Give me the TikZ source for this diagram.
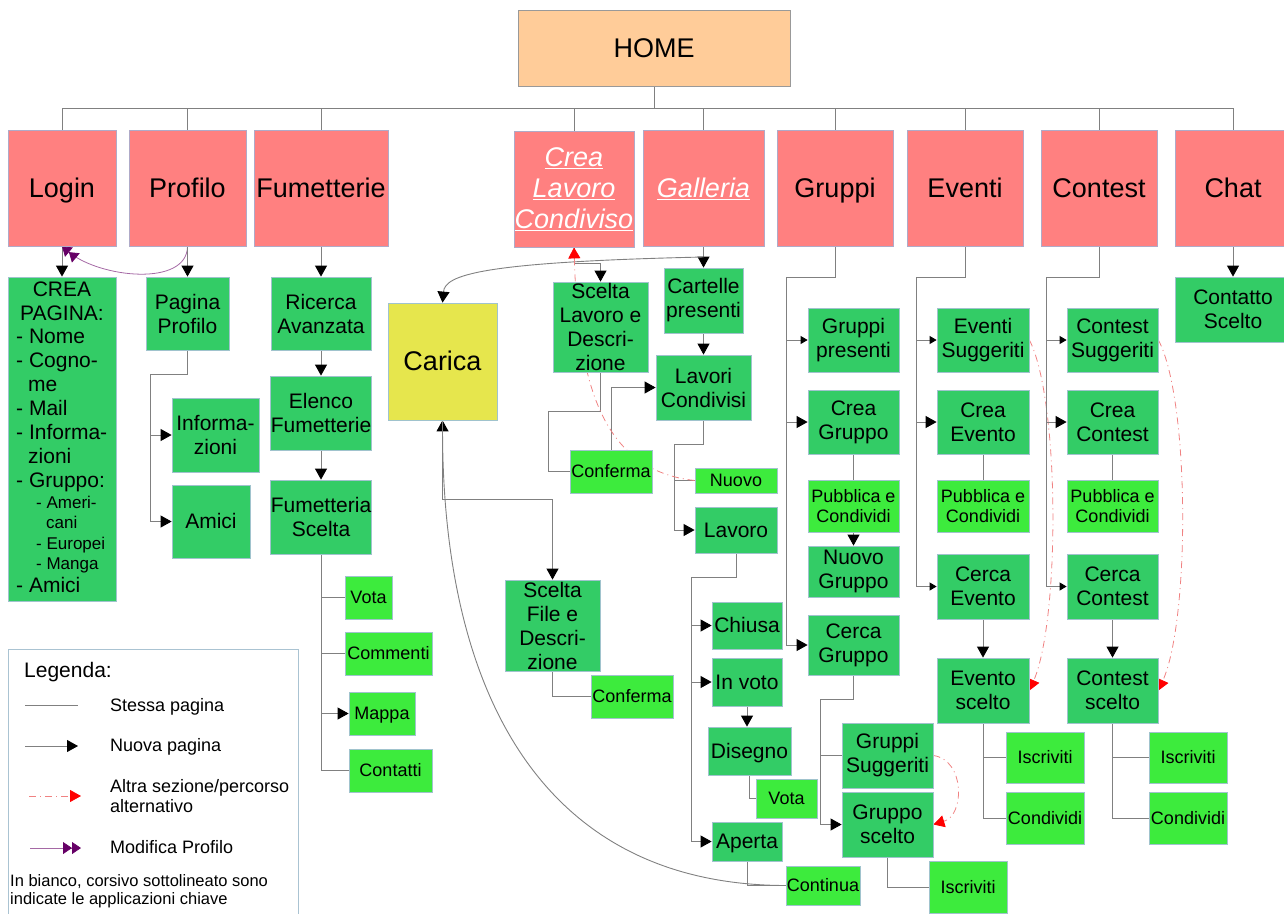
\documentclass[tikz,border=0pt]{standalone}
\usepackage{fontspec}
\setmainfont{Liberation Sans}
\usetikzlibrary{arrows.meta}
\pgfdeclarelayer{background}
\pgfsetlayers{background,main}
\newcommand\fs[2]{\fontsize{#1}{#2}\selectfont}
\newcommand\B[7]{\node[#2, minimum width={#5-#3}, minimum height={#6-#4}] (#1) at ({(#3+#5)/2},{(#4+#6)/2}) {#7};}
\newcommand\UL[1]{\underline{#1}}
\definecolor{pinkc}{RGB}{255,128,128}
\definecolor{topbord}{RGB}{175,170,200}
\definecolor{peach}{RGB}{255,204,153}
\definecolor{dgreen}{RGB}{51,204,102}
\definecolor{lgreen}{RGB}{61,235,61}
\definecolor{yel}{RGB}{230,230,77}
\definecolor{bord}{RGB}{160,195,205}
\definecolor{lgray}{RGB}{128,128,128}
\definecolor{redline}{RGB}{240,130,130}
\definecolor{purp}{RGB}{102,0,102}
\definecolor{purpl}{RGB}{165,105,165}
\definecolor{legbord}{RGB}{170,195,210}
\begin{document}
\begin{tikzpicture}[x=1pt,y=-1pt,
  bx/.style={draw=bord, line width=0.8pt, inner sep=0pt, align=center, text=black},
  topbox/.style={bx, fill=pinkc, draw=topbord, font=\fs{27}{31}},
  hm/.style={bx, fill=peach, draw=lgray!80, font=\fs{27}{31}},
  gb/.style={bx, fill=dgreen, font=\fs{21}{24}},
  lb/.style={bx, fill=lgreen, font=\fs{18}{20}},
  yb/.style={bx, fill=yel, font=\fs{27}{31}},
  oneL/.style={text height=24.4pt, text depth=5.7pt},
  oneM/.style={text height=19pt, text depth=4.45pt},
  oneS/.style={text height=16.3pt, text depth=3.8pt},
  conn/.style={draw=lgray, line width=0.9pt},
  nar/.style={conn, -{Triangle[length=11pt,width=12pt,color=black]}},
  snar/.style={conn, -{Triangle[length=7pt,width=8pt,color=black]}},
  altarr/.style={draw=redline, line width=0.8pt, dash pattern=on 7pt off 4pt on 1pt off 4pt, -{Triangle[length=11pt,width=12pt,color=red]}},
  purparr/.style={draw=purpl, line width=0.8pt, -{Triangle[length=9pt,width=12pt,color=purp]Triangle[length=9pt,width=12pt,color=purp]}},
  lt/.style={anchor=base west, inner sep=0pt, font=\fs{21}{24}},
  st/.style={anchor=base west, inner sep=0pt, font=\fs{17}{20}},
  lgt/.style={anchor=base west, inner sep=0pt, font=\fs{18}{21}}
]
\useasboundingbox (0,0) rectangle (1284,913);

% ---------- top level ----------
\B{home}{hm,oneL}{518}{10}{790}{86}{HOME}
\B{login}{topbox,oneL}{8}{130}{116}{246}{Login}
\B{profilo}{topbox,oneL}{129}{130}{246}{246}{Profilo}
\B{fumetterie}{topbox,oneL}{254}{130}{388}{246}{Fumetterie}
\B{crealav}{topbox,text=white,font=\fs{27}{31}\itshape}{514}{131}{634}{247}{\UL{Crea}\\\UL{Lavoro}\\\UL{Condiviso}}
\B{galleria}{topbox,oneL,text=white,font=\fs{27}{31}\itshape}{643}{130}{764}{246}{\UL{Galleria}}
\B{gruppi}{topbox,oneL}{777}{130}{893}{246}{Gruppi}
\B{eventi}{topbox,oneL}{907}{130}{1023}{246}{Eventi}
\B{contest}{topbox,oneL}{1041}{130}{1157}{246}{Contest}
\B{chat}{topbox,oneL}{1175}{130}{1291}{246}{Chat}

% ---------- Login ----------
\B{crea}{gb}{8}{277}{116}{601}{}
\node[anchor=base, inner sep=0pt, font=\fs{21}{24}] (cp1) at (62,296) {CREA};
\node[anchor=base, inner sep=0pt, font=\fs{21}{24}] (cp2) at (62,320) {PAGINA:};
\node[lt] (cp3) at (16,343) {- Nome};
\node[lt] (cp4) at (16,367) {- Cogno-};
\node[lt] (cp5) at (28,391) {me};
\node[lt] (cp6) at (16,415) {- Mail};
\node[lt] (cp7) at (16,439) {- Informa-};
\node[lt] (cp8) at (28,463) {zioni};
\node[lt] (cp9) at (16,487) {- Gruppo:};
\node[st] (cp10) at (36,508) {- Ameri-};
\node[st] (cp11) at (46,528) {cani};
\node[st] (cp12) at (36,549) {- Europei};
\node[st] (cp13) at (36,569) {- Manga};
\node[lt] (cp14) at (16,592) {- Amici};

% ---------- Profilo ----------
\B{pagprof}{gb}{146}{277}{229}{350}{Pagina\\Profilo}
\B{info}{gb}{172}{398}{259}{472}{Informa-\\zioni}
\B{amici}{gb,oneM}{172}{485}{250}{558}{Amici}

% ---------- Fumetterie ----------
\B{ricerca}{gb}{271}{277}{371}{350}{Ricerca\\Avanzata}
\B{elenco}{gb}{271}{376}{371}{450}{Elenco\\Fumetterie}
\B{fscelta}{gb}{271}{480}{371}{554}{Fumetteria\\Scelta}
\B{fvota}{lb,oneS}{345}{576}{392}{619}{Vota}
\B{commenti}{lb,oneS}{345}{632}{432}{675}{Commenti}
\B{mappa}{lb,oneS}{349}{692}{415}{735}{Mappa}
\B{contatti}{lb,oneS}{349}{749}{432}{792}{Contatti}

% ---------- Carica / Crea Lavoro / Galleria ----------
\B{carica}{yb,oneL}{388}{303}{497}{420}{Carica}
\B{sceltalav}{gb}{553}{282}{648}{372}{Scelta\\Lavoro e\\Descri-\\zione}
\B{conferma1}{lb,oneS}{570}{450}{652}{493}{Conferma}
\B{cartelle}{gb}{664}{268}{743}{333}{Cartelle\\presenti}
\B{lavcond}{gb}{656}{355}{751}{420}{Lavori\\Condivisi}
\B{nuovo}{lb,oneS}{695}{468}{777}{493}{Nuovo}
\B{lavoro}{gb,oneM}{695}{507}{777}{553}{Lavoro}
\B{chiusa}{gb,oneM}{712}{602}{782}{649}{Chiusa}
\B{invoto}{gb,oneM}{712}{658}{782}{706}{In voto}
\B{disegno}{gb,oneM}{708}{727}{791}{775}{Disegno}
\B{dvota}{lb,oneS}{756}{779}{817}{818}{Vota}
\B{aperta}{gb,oneM}{712}{822}{782}{861}{Aperta}
\B{continua}{lb,oneS}{786}{866}{860}{905}{Continua}
\B{sceltafile}{gb}{505}{580}{600}{671}{Scelta\\File e\\Descri-\\zione}
\B{conferma2}{lb,oneS}{591}{675}{673}{718}{Conferma}

% ---------- Gruppi ----------
\B{gpres}{gb}{808}{308}{899}{372}{Gruppi\\presenti}
\B{creag}{gb}{808}{390}{899}{454}{Crea\\Gruppo}
\B{pubg}{lb}{808}{480}{899}{532}{Pubblica e\\Condividi}
\B{nuovog}{gb}{808}{546}{899}{597}{Nuovo\\Gruppo}
\B{cercag}{gb}{808}{615}{899}{675}{Cerca\\Gruppo}
\B{gsugg}{gb}{842}{723}{933}{788}{Gruppi\\Suggeriti}
\B{gscelto}{gb}{842}{792}{933}{857}{Gruppo\\scelto}
\B{giscr}{lb,oneS}{929}{861}{1007}{913}{Iscriviti}

% ---------- Eventi ----------
\B{esugg}{gb}{937}{308}{1029}{372}{Eventi\\Suggeriti}
\B{creae}{gb}{937}{390}{1029}{454}{Crea\\Evento}
\B{pube}{lb}{937}{480}{1029}{532}{Pubblica e\\Condividi}
\B{cercae}{gb}{937}{554}{1029}{619}{Cerca\\Evento}
\B{escelto}{gb}{937}{658}{1029}{723}{Evento\\scelto}
\B{eiscr}{lb,oneS}{1006}{732}{1084}{783}{Iscriviti}
\B{econd}{lb,oneS}{1006}{792}{1084}{844}{Condividi}

% ---------- Contest ----------
\B{csugg}{gb}{1067}{308}{1158}{372}{Contest\\Suggeriti}
\B{creac}{gb}{1067}{390}{1158}{454}{Crea\\Contest}
\B{pubc}{lb}{1067}{480}{1158}{532}{Pubblica e\\Condividi}
\B{cercac}{gb}{1067}{554}{1158}{619}{Cerca\\Contest}
\B{cscelto}{gb}{1067}{658}{1158}{723}{Contest\\scelto}
\B{ciscr}{lb,oneS}{1149}{732}{1227}{783}{Iscriviti}
\B{ccond}{lb,oneS}{1149}{792}{1227}{844}{Condividi}

% ---------- Chat ----------
\B{contatto}{gb}{1175}{277}{1291}{342}{Contatto\\Scelto}

% ---------- connectors ----------
\begin{pgfonlayer}{background}
\coordinate (b0) at (654,108);
\draw[conn] (home.south) -- (b0);
\foreach \n in {login,profilo,fumetterie,crealav,galleria,gruppi,eventi,contest,chat}
  \draw[conn] (\n.north) |- (b0);

\draw[nar] (login.south) -- (crea.north);
\draw[purparr] (profilo.south) .. controls (187,287) and (100,278) .. (login.south);

\draw[nar] (profilo.south) -- (pagprof.north);
\coordinate (pp) at (150,374);
\draw[nar] (pagprof.south) |- (pp) |- (amici.west);
\draw[nar] (pp |- info.west) -- (info.west);

\draw[nar] (fumetterie.south) -- (ricerca.north);
\draw[nar] (ricerca.south) -- (elenco.north);
\draw[nar] (elenco.south) -- (fscelta.north);
\draw[conn] (fscelta.south) |- (contatti.west);
\draw[conn] (fscelta.south |- fvota.west) -- (fvota.west);
\draw[conn] (fscelta.south |- commenti.west) -- (commenti.west);
\draw[nar] (fscelta.south |- mappa.west) -- (mappa.west);

\coordinate (gs) at (703.5,257);
\draw[nar] (galleria.south) -- (cartelle.north);
\draw[nar] (gs) .. controls (480,262) and (445,275) .. (carica.north);
\draw[nar] (cartelle.south) -- (lavcond.north);

\draw[nar] (crealav.south) -- ++(0,16) -| (sceltalav.north);
\draw[conn] (sceltalav.south) |- (548,411) |- (conferma1.west);
\draw[nar] (conferma1.north) |- (lavcond.west);
\coordinate (lc) at (674,444);
\draw[nar] (lavcond.south) |- (lc) |- (lavoro.west);
\draw[conn] (lc |- nuovo.west) -- (nuovo.west);
\draw[altarr] (nuovo.west) .. controls (600,470) and (578,380) .. (crealav.south);

\coordinate (lv) at (691,577);
\draw[nar] (lavoro.south) |- (lv) |- (aperta.west);
\draw[nar] (lv |- chiusa.west) -- (chiusa.west);
\draw[nar] (lv |- invoto.west) -- (invoto.west);
\draw[nar] (invoto.south) -- (invoto.south |- disegno.north);
\draw[conn] (disegno.south) |- (dvota.west);
\draw[conn] (aperta.south) |- (continua.west);
\draw[nar] (continua.west) .. controls (540,885) and (443,690) .. (carica.south);

\draw[nar] (carica.south) -- ++(0,79) -| (sceltafile.north);
\draw[conn] (sceltafile.south) |- (conferma2.west);

\coordinate (g0) at (786,277);
\draw[nar] (gruppi.south) |- (g0) |- (cercag.west);
\draw[snar] (g0 |- gpres.west) -- (gpres.west);
\draw[nar] (g0 |- creag.west) -- (creag.west);
\draw[conn] (creag.south) -- (pubg.north);
\draw[nar] (pubg.south) -- (nuovog.north);
\coordinate (g1) at (820,699);
\draw[nar] (cercag.south) |- (g1) |- (gscelto.west);
\draw[conn] (g1 |- gsugg.west) -- (gsugg.west);
\draw[conn] (gscelto.south) |- (giscr.west);
\draw[altarr] (gsugg.east) .. controls (965,760) and (965,815) .. (gscelto.east);

\coordinate (e0) at (916,277);
\draw[snar] (eventi.south) |- (e0) |- (cercae.west);
\draw[snar] (e0 |- esugg.west) -- (esugg.west);
\draw[nar] (e0 |- creae.west) -- (creae.west);
\draw[conn] (creae.south) -- (pube.north);
\draw[nar] (cercae.south) -- (escelto.north);
\draw[conn] (escelto.south) |- (econd.west);
\draw[conn] (escelto.south |- eiscr.west) -- (eiscr.west);
\draw[altarr] (esugg.east) .. controls (1060,400) and (1060,620) .. (escelto.east);

\coordinate (c0) at (1046,277);
\draw[snar] (contest.south) |- (c0) |- (cercac.west);
\draw[snar] (c0 |- csugg.west) -- (csugg.west);
\draw[nar] (c0 |- creac.west) -- (creac.west);
\draw[conn] (creac.south) -- (pubc.north);
\draw[nar] (cercac.south) -- (cscelto.north);
\draw[conn] (cscelto.south) |- (ccond.west);
\draw[conn] (cscelto.south |- ciscr.west) -- (ciscr.west);
\draw[altarr] (csugg.east) .. controls (1190,400) and (1190,620) .. (cscelto.east);

\draw[nar] (chat.south) -- (contatto.north);
\end{pgfonlayer}

% ---------- legend ----------
\node[draw=legbord, line width=0.8pt, minimum width=290, minimum height=280, anchor=north west, inner sep=0pt] (legend) at (8,649) {};
\node[lgt, font=\fs{21}{24}] (leg0) at (24,677) {Legenda:};
\coordinate (la1) at (25,705); \coordinate (la2) at (78,705);
\coordinate (lb1) at (25,746); \coordinate (lb2) at (78,746);
\coordinate (lc1) at (29,796); \coordinate (lc2) at (81,796);
\coordinate (ld1) at (30,848); \coordinate (ld2) at (81,848);
\draw[conn] (la1) -- (la2);
\draw[nar] (lb1) -- (lb2);
\draw[altarr] (lc1) -- (lc2);
\draw[purparr] (ld1) -- (ld2);
\node[lgt] (leg1) at (110,711) {Stessa pagina};
\node[lgt] (leg2) at (110,751) {Nuova pagina};
\node[lgt] (leg3) at (110,792) {Altra sezione/percorso};
\node[lgt] (leg3b) at (110,812) {alternativo};
\node[lgt] (leg4) at (110,853) {Modifica Profilo};
\node[lgt, font=\fs{16.5}{18}] (leg5) at (10,886) {In bianco, corsivo sottolineato sono};
\node[lgt, font=\fs{16.5}{18}] (leg6) at (10,904) {indicate le applicazioni chiave};
\end{tikzpicture}
\end{document}
